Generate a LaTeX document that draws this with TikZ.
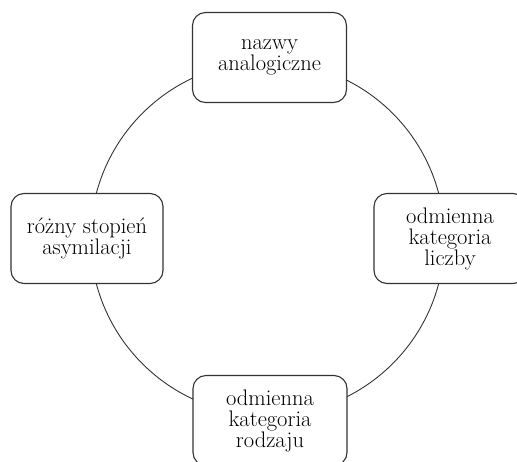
\documentclass[tikz,border=0pt]{standalone}
\begin{document}
\begin{tikzpicture}[x=1pt,y=-1pt,
  box/.style={draw=black!80, line width=1.1pt, rounded corners=13pt, fill=white,
    minimum width=154pt, minimum height=90pt, align=center, inner sep=0pt,
    font=\fontsize{22.5}{21}\selectfont},
  ring/.style={draw=black!80, line width=0.9pt}]
\useasboundingbox (0,0) rectangle (517,461);
\coordinate (c) at (267.5,238.5);
\draw[ring] (c) circle (177);
\node[box] (top) at (269.5,57.5) {nazwy\\analogiczne};
\node[box, minimum width=152pt] (left) at (87,238.5) {różny stopień\\asymilacji};
\node[box, minimum width=152pt] (right) at (450,238.5) {odmienna\\kategoria\\liczby};
\node[box] (bottom) at (270,420.5) {odmienna\\kategoria\\rodzaju};
\end{tikzpicture}
\end{document}
